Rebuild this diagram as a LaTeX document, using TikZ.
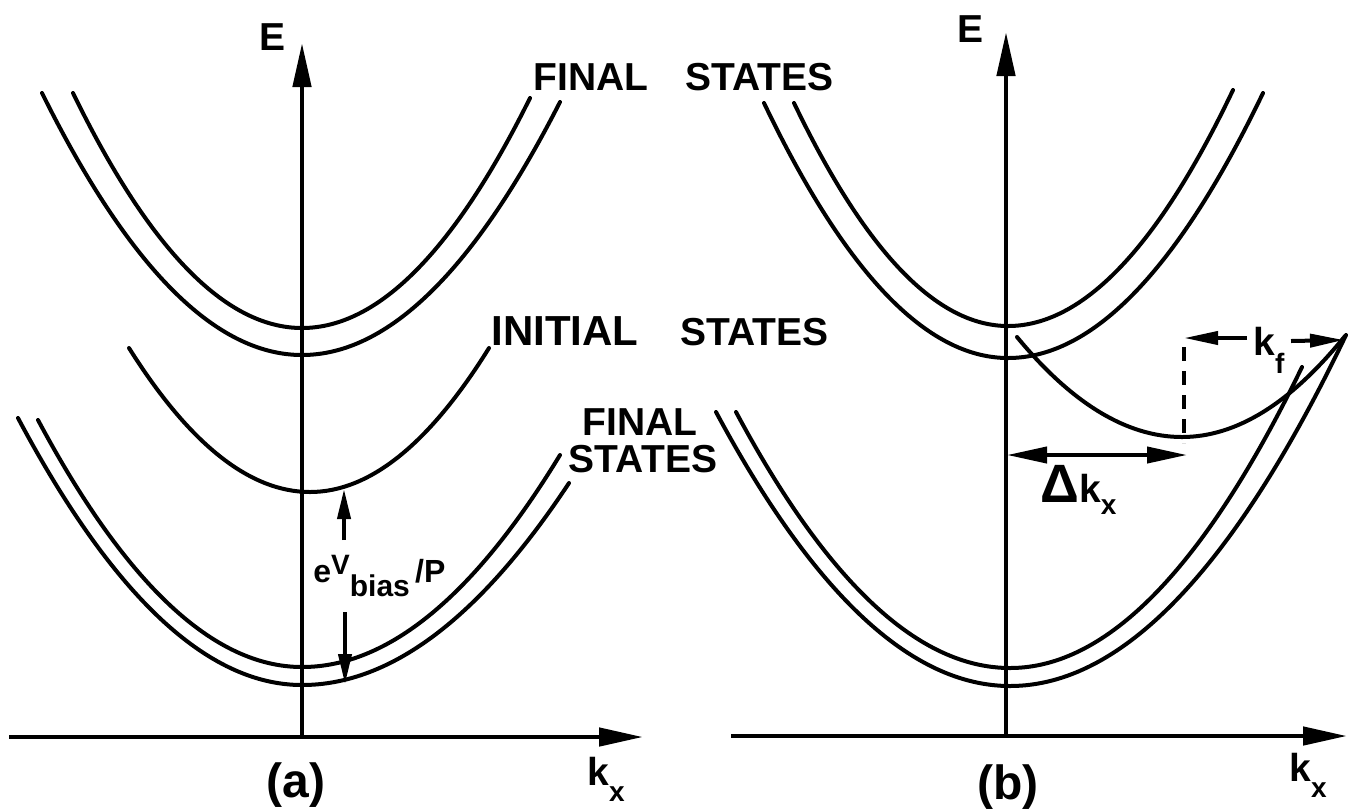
\documentclass[tikz,border=0pt]{standalone}
\usepackage{fontspec}
\setmainfont{Liberation Sans}
\usetikzlibrary{arrows.meta}
% parabola-like curve: left end (#1,#2), vertex (#3,#4), right end (#5,#6)
\newcommand{\bandcurve}[6]{%
  \draw[curve] (#1,#2) .. controls ({#1+(#3-#1)/3},{#2+2*(#4-#2)/3}) and ({#3-(#3-#1)/3},#4) .. (#3,#4)
    .. controls ({#3+(#5-#3)/3},#4) and ({#5-(#5-#3)/3},{#6+2*(#4-#6)/3}) .. (#5,#6);}
\begin{document}
\begin{tikzpicture}[x=0.5pt,y=-0.5pt,
  curve/.style={line width=2pt, line cap=round},
  axisarrow/.style={line width=2.3pt, -{Triangle[length=22pt,width=9pt]}},
  dimarrow/.style={line width=2pt, -{Triangle[length=15pt,width=6.5pt]}},
  dblarrow/.style={line width=2pt, {Triangle[length=20pt,width=8pt]}-{Triangle[length=20pt,width=8pt]}},
  kfarrow/.style={line width=2pt, -{Triangle[length=17pt,width=6.5pt]}},
  lbl/.style={inner sep=0pt, font=\bfseries\fontsize{19.5}{22}\selectfont},
  biglbl/.style={inner sep=0pt, font=\bfseries\fontsize{24}{26}\selectfont}]
\useasboundingbox (0,0) rectangle (1352,810);

% ---------------- panel (a) ----------------
\coordinate (oa) at (302,737);
\coordinate (Etipa) at (302,43);
\coordinate (xa0) at (9,737);
\coordinate (xa1) at (643,737);
\draw[axisarrow] (oa) -- (Etipa);
\draw[axisarrow] (xa0) -- (xa1);

% upper final states pair
\bandcurve{42}{93}{302}{355}{560}{102}
\bandcurve{73}{93}{302}{328}{530}{98}
% initial states
\bandcurve{129}{348}{310}{492}{489}{348}
% lower final states pair
\bandcurve{18}{418}{302}{685}{569}{483}
\bandcurve{38}{420}{302}{667}{560}{455}

% eV_bias/P arrows
\coordinate (ua0) at (344,540);
\coordinate (ua1) at (344,489);
\coordinate (da0) at (345,612);
\coordinate (da1) at (345,684);
\draw[dimarrow] (ua0) -- (ua1);
\draw[dimarrow] (da0) -- (da1);

\node[lbl, anchor=base west] (Ea) at (259,50) {E};
\node[lbl, anchor=base west] (fsa1) at (533,90) {FINAL};
\node[lbl, anchor=base west] (fsa2) at (685,90) {STATES};
\node[lbl, anchor=base west, font=\bfseries\fontsize{21}{22}\selectfont] (isa1) at (491,345) {INITIAL};
\node[lbl, anchor=base west] (isa2) at (680,345) {STATES};
\node[lbl, anchor=base] (fsl1) at (640,435) {FINAL};
\node[lbl, anchor=base] (fsl2) at (643,472) {STATES};
\node[inner sep=0pt, anchor=base west, font=\bfseries\fontsize{16}{18}\selectfont] (ev) at (313,582)
  {e\raisebox{4pt}{\fontsize{14}{14}\selectfont V}\raisebox{-7pt}{\fontsize{15}{15}\selectfont bias}\,/P};
\node[lbl, anchor=base west] (kxa) at (587,785) {k\raisebox{-8pt}{\fontsize{14}{14}\selectfont x}};
\node[biglbl] (la) at (296,785) {(a)};

% ---------------- panel (b) ----------------
\coordinate (ob) at (1006,737);
\coordinate (Etipb) at (1006,32);
\coordinate (xb0) at (731,736);
\coordinate (xb1) at (1347,736);
\draw[axisarrow] (ob) -- (Etipb);
\draw[axisarrow] (xb0) -- (xb1);

% upper pair
\bandcurve{764}{103}{1008}{358}{1263}{93}
\bandcurve{794}{103}{1008}{326}{1233}{90}
% shifted initial states
\bandcurve{1017}{337}{1182}{437}{1345}{336}
% lower pair
\bandcurve{716}{412}{1010}{686}{1346}{335}
\bandcurve{736}{412}{1010}{668}{1302}{367}

% dashed marker
\coordinate (dsh0) at (1184,347);
\coordinate (dsh1) at (1184,443);
\draw[line width=2.2pt, dash pattern=on 7pt off 5pt] (dsh0) -- (dsh1);

% Delta k_x
\coordinate (dk0) at (1007,455);
\coordinate (dk1) at (1187,455);
\draw[dblarrow] (dk0) -- (dk1);
\node[inner sep=0pt, anchor=base west, font=\bfseries\fontsize{19.5}{22}\selectfont] (dk) at (1040,502)
  {{\fontsize{27}{27}\selectfont Δ}k\raisebox{-6pt}{\fontsize{14}{14}\selectfont x}};

% k_f
\node[lbl, anchor=base west] (kf) at (1253,355) {k\raisebox{-9pt}{\fontsize{14}{14}\selectfont f}};
\coordinate (kfl) at (1184,338);
\coordinate (kfr) at (1344,340);
\coordinate (kfl0) at (1247,338);
\coordinate (kfr0) at (1291,341);
\draw[kfarrow] (kfl0) -- (kfl);
\draw[kfarrow] (kfr0) -- (kfr);

\node[lbl, anchor=base west] (Eb) at (957,42) {E};
\node[lbl, anchor=base west] (kxb) at (1289,781) {k\raisebox{-8pt}{\fontsize{14}{14}\selectfont x}};
\node[biglbl] (lb) at (1008,787) {(b)};
\end{tikzpicture}
\end{document}
